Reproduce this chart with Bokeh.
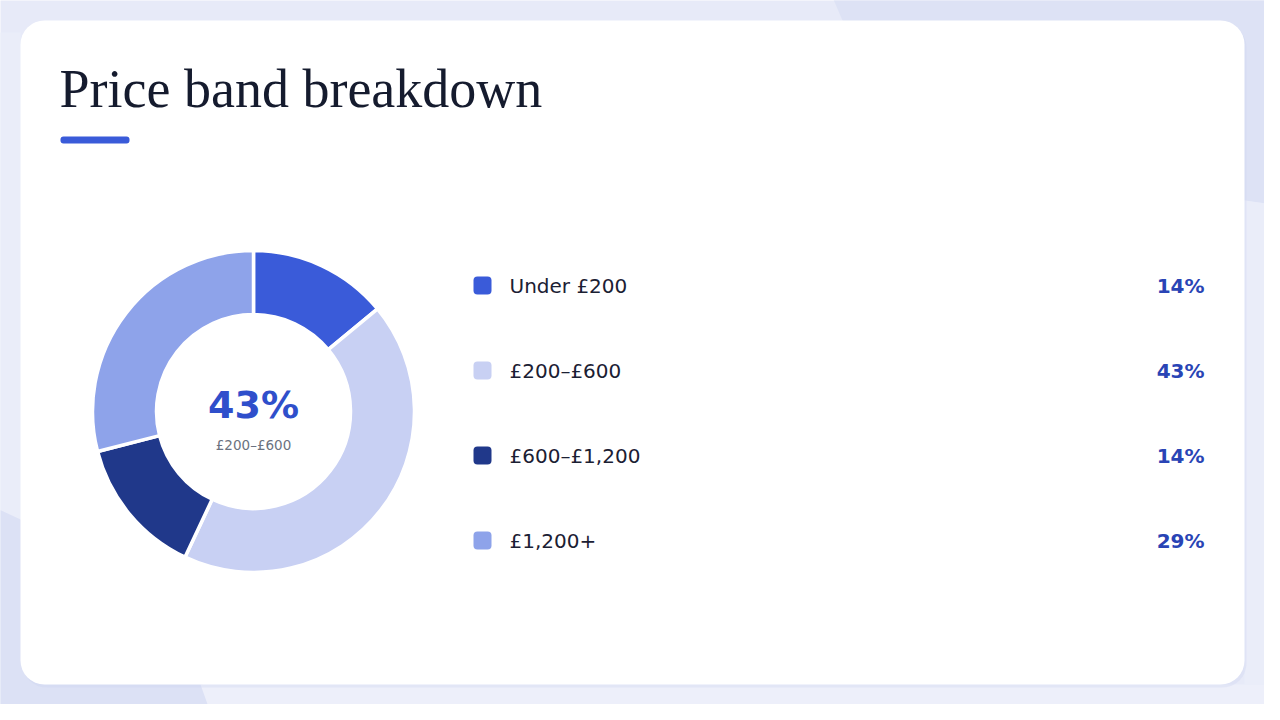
import numpy as np
from bokeh.plotting import figure
from bokeh.models import Range1d
from bokeh.embed import file_html
from bokeh.resources import INLINE
from bokeh.core.properties import value

# ---------------- data ----------------
title_text = "Price band breakdown"
categories = ["Under £200", "£200–£600", "£600–£1,200", "£1,200+"]
shares = [14, 43, 14, 29]
colors = ["#3A5BD9", "#C8D0F3", "#20388A", "#8EA3EA"]
highlight_index = 1

# ---------------- figure (data units == screen pixels of the reference) ----------------
W, H = 1264, 704
p = figure(width=W, height=H, x_range=Range1d(8, 8 + W), y_range=Range1d(8, 8 + H),
           output_backend="svg", toolbar_location=None, min_border=0)
p.axis.visible = False
p.grid.visible = False
p.outline_line_color = None
p.background_fill_color = "#E7EAF8"
p.border_fill_color = "#E7EAF8"


def Y(y):
    return 720 - y


SANS = value("DejaVu Sans")

# ---------------- background shapes ----------------
bg_xs = [
    [838, 1280, 1280, 1252, 850],
    [0, 28, 28, 0],
    [0, 28, 210, 218, 0],
    [208, 1280, 1280, 218],
    [1252, 1280, 1280, 1252],
]
bg_ys = [
    [0, 0, 212, 208, 28],
    [40, 40, 527, 514],
    [514, 527, 692, 720, 720],
    [692, 692, 720, 720],
    [208, 212, 692, 692],
]
bg_cols = ["#DDE2F5", "#EAEDF9", "#DCE1F5", "#EDEFFA", "#EAEDF9"]
p.patches(xs=bg_xs, ys=[[Y(v) for v in ys] for ys in bg_ys], fill_color=bg_cols,
          line_color=None)

# ---------------- card ----------------
p.quad(left=[30], right=[1254], top=[Y(31)], bottom=[Y(695)], border_radius=24,
       fill_color="#C9D0EE", fill_alpha=0.3, line_color=None)
p.quad(left=[28], right=[1252], top=[Y(28)], bottom=[Y(692)], border_radius=24,
       fill_color="#FFFFFF", line_color=None)

# ---------------- title ----------------
p.text(x=[67], y=[Y(96)], text=[title_text], text_font=value("Liberation Serif"),
       text_font_size="54px", text_color="#151B2E", text_baseline="middle",
       text_align="left")
p.quad(left=[68], right=[137], top=[Y(144)], bottom=[Y(151)], border_radius=3,
       fill_color="#3A5BD9", line_color=None)

# ---------------- donut ----------------
cx, cy = 261, 419
fr = np.array(shares, dtype=float) / sum(shares)
cum = np.concatenate([[0], np.cumsum(fr)])
start = np.pi / 2 - 2 * np.pi * cum[:-1]
end = np.pi / 2 - 2 * np.pi * cum[1:]
p.annular_wedge(x=cx, y=Y(cy), inner_radius=97, outer_radius=161,
                start_angle=start, end_angle=end, direction="clock",
                fill_color=colors, line_color="white", line_width=3.5)

p.text(x=[cx], y=[Y(412)], text=[f"{shares[highlight_index]}%"], text_font=SANS,
       text_font_style="bold", text_font_size="38px", text_color="#2F4FCB",
       text_align="center", text_baseline="middle")
p.text(x=[cx], y=[Y(452)], text=[categories[highlight_index]], text_font=SANS,
       text_font_size="13.5px", text_color="#6B7280",
       text_align="center", text_baseline="middle")

# ---------------- legend ----------------
row0, step = 293, 85
rows = np.array([row0 + i * step for i in range(len(categories))], dtype=float)
p.quad(left=481, right=499, top=Y(rows - 9), bottom=Y(rows + 9), border_radius=4,
       fill_color=colors, line_color=None)
p.text(x=517, y=Y(rows), text=categories, text_font=SANS, text_font_size="20px",
       text_color="#1B2033", text_align="left", text_baseline="middle")
p.text(x=1212, y=Y(rows), text=[f"{s}%" for s in shares], text_font=SANS,
       text_font_style="bold", text_font_size="20px", text_color="#2944B5",
       text_align="right", text_baseline="middle")

open("out.html", "w").write(file_html(p, INLINE))
